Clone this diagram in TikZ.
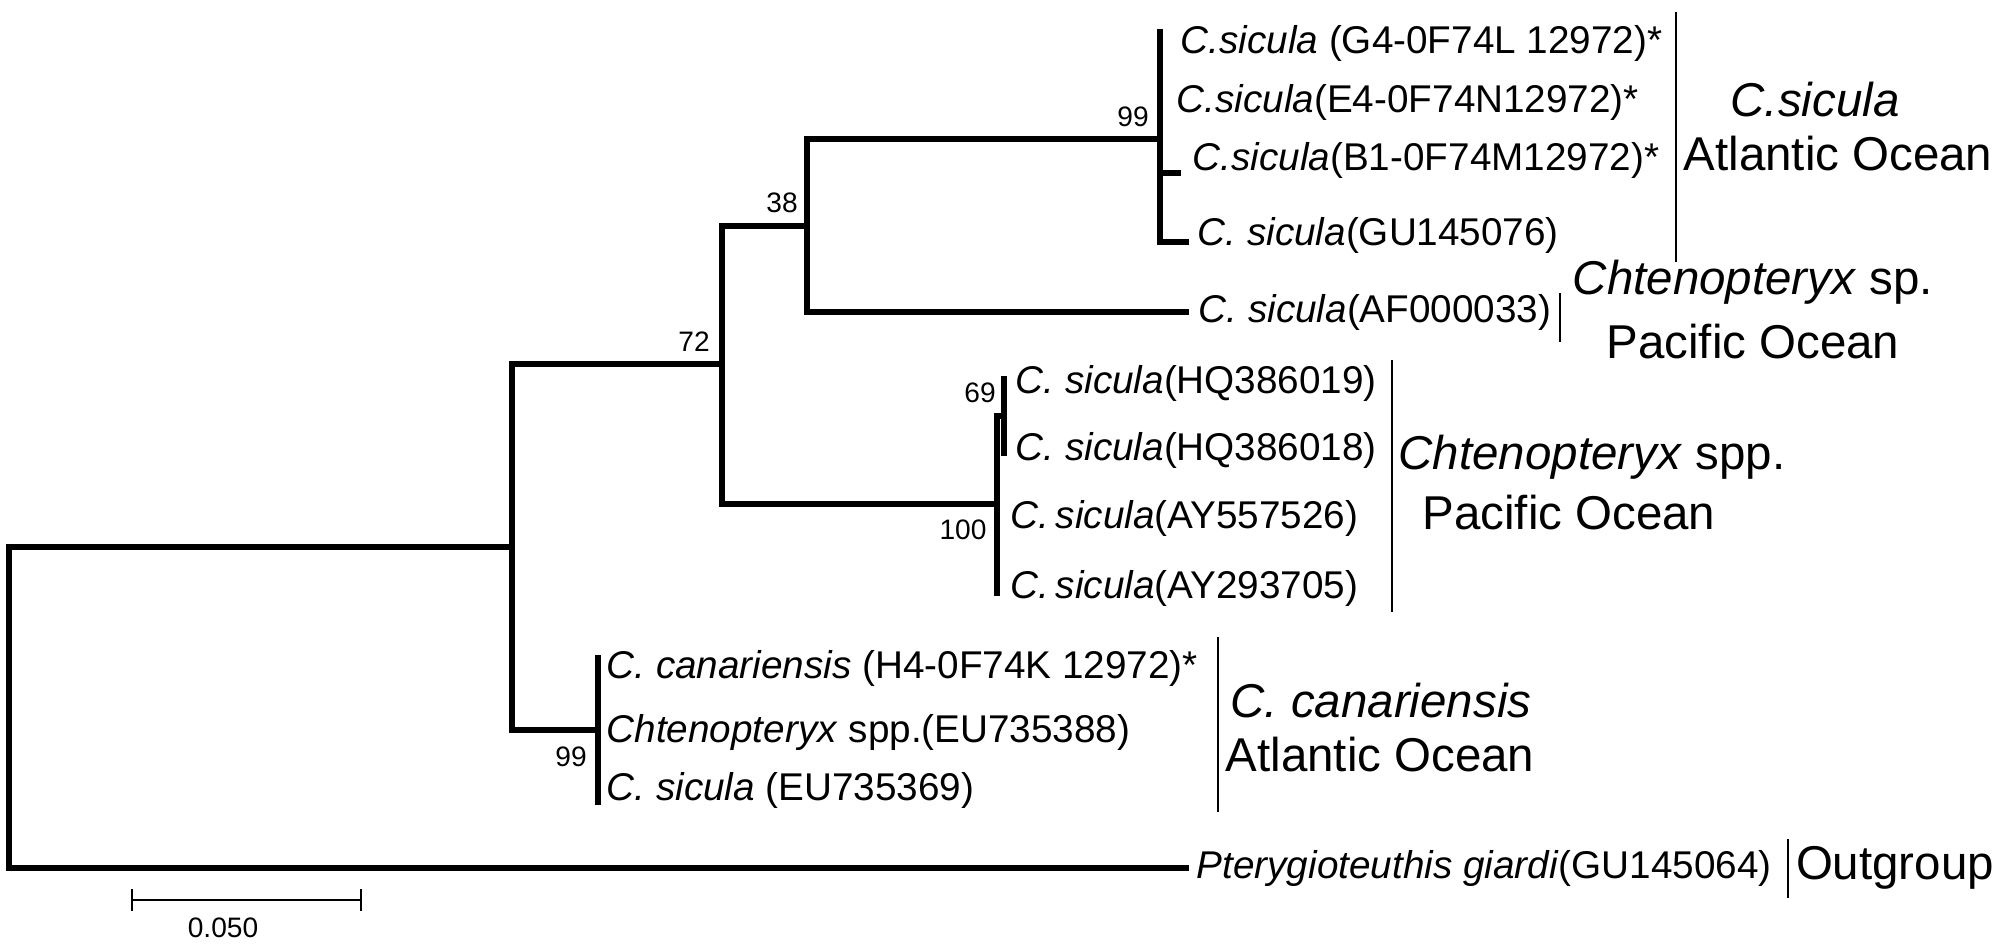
\documentclass[tikz,border=0pt]{standalone}
\usepackage{fontspec}
\setmainfont{Liberation Sans}
\usetikzlibrary{calc}

\begin{document}
\begin{tikzpicture}[
    x=0.01cm, y=-0.01cm,
    every node/.style={inner sep=0pt},
    branch/.style ={line width=1.45pt, draw=black, line cap=rect},
    clade/.style  ={line width=0.6pt, draw=black},
    scalebar/.style={line width=0.8pt, draw=black},
    leaf/.style   ={anchor=west, font=\fontsize{11}{13}\selectfont},
    boot/.style   ={font=\fontsize{8}{9}\selectfont},
    group/.style  ={font=\fontsize{13.5}{16}\selectfont},
  ]
  \useasboundingbox (0,0) rectangle (1999,948);

  %% --- internal nodes ---------------------------------------------------
  \coordinate (root)  at (9,707);
  \coordinate (nA)    at (512,547);
  \coordinate (n72)   at (722,364);
  \coordinate (n38)   at (807,226);
  \coordinate (n99a)  at (1160,139);
  \coordinate (n100)  at (997,504);
  \coordinate (n69)   at (1004,416);
  \coordinate (n99b)  at (598,730);

  %% --- branch tips ------------------------------------------------------
  \coordinate (G4)    at (1160,32);
  \coordinate (E4)    at (1160,102);
  \coordinate (B1)    at (1178,173);
  \coordinate (GU076) at (1186,242);
  \coordinate (AF033) at (1186,312);
  \coordinate (HQ019) at (1004,379);
  \coordinate (HQ018) at (1004,453);
  \coordinate (AY526) at (997,521);
  \coordinate (AY705) at (997,593);
  \coordinate (H4)    at (598,658);
  \coordinate (EU388) at (598,730);
  \coordinate (EU369) at (598,802);
  \coordinate (GU064) at (1186,868);

  %% --- tree -------------------------------------------------------------
  \draw[branch] (root) |- (nA);
  \draw[branch] (root) |- (GU064);
  \draw[branch] (nA) |- (n72);
  \draw[branch] (nA) |- (n99b);
  \draw[branch] (n72) |- (n38);
  \draw[branch] (n72) |- (n100);
  \draw[branch] (n38) |- (n99a);
  \draw[branch] (n38) |- (AF033);
  \draw[branch] (n99a) |- (G4);
  \draw[branch] (n99a) |- (E4);
  \draw[branch] (n99a) |- (B1);
  \draw[branch] (n99a) |- (GU076);
  \draw[branch] (n100) |- (n69);
  \draw[branch] (n100) |- (AY526);
  \draw[branch] (n100) |- (AY705);
  \draw[branch] (n69) |- (HQ019);
  \draw[branch] (n69) |- (HQ018);
  \draw[branch] (n99b) |- (H4);
  \draw[branch] (n99b) |- (EU388);
  \draw[branch] (n99b) |- (EU369);

  %% --- bootstrap values -------------------------------------------------
  \node[boot] (b72)  at (694,342) {72};
  \node[boot] (b38)  at (782,203) {38};
  \node[boot] (b99a) at (1133,117) {99};
  \node[boot] (b69)  at (980,393) {69};
  \node[boot] (b100) at (963,530) {100};
  \node[boot] (b99b) at (571,757) {99};

  %% --- leaf labels ------------------------------------------------------
  \node[leaf] (lG4)    at (1180,43)  {\textit{C.sicula} (G4-0F74L 12972)*};
  \node[leaf] (lE4)    at (1176,102) {\textit{C.sicula}(E4-0F74N12972)*};
  \node[leaf] (lB1)    at (1192,160) {\textit{C.sicula}(B1-0F74M12972)*};
  \node[leaf] (lGU076) at (1197,235) {\textit{C. sicula}(GU145076)};
  \node[leaf] (lAF033) at (1198,312) {\textit{C. sicula}(AF000033)};
  \node[leaf] (lHQ019) at (1015,383) {\textit{C. sicula}(HQ386019)};
  \node[leaf] (lHQ018) at (1015,450) {\textit{C. sicula}(HQ386018)};
  \node[leaf] (lAY526) at (1010,518) {\textit{C.\,sicula}(AY557526)};
  \node[leaf] (lAY705) at (1010,588) {\textit{C.\,sicula}(AY293705)};
  \node[leaf] (lH4)    at (606,668)  {\textit{C. canariensis} (H4-0F74K 12972)*};
  \node[leaf] (lEU388) at (606,732)  {\textit{Chtenopteryx} spp.(EU735388)};
  \node[leaf] (lEU369) at (606,790)  {\textit{C. sicula} (EU735369)};
  \node[leaf] (lGU064) at (1196,868) {\textit{Pterygioteuthis giardi}(GU145064)};

  %% --- clade bars -------------------------------------------------------
  \coordinate (cA1) at (1676,12);  \coordinate (cA2) at (1676,262);
  \coordinate (cB1) at (1560,293); \coordinate (cB2) at (1560,342);
  \coordinate (cC1) at (1392,360); \coordinate (cC2) at (1392,612);
  \coordinate (cD1) at (1218,637); \coordinate (cD2) at (1218,812);
  \coordinate (cE1) at (1788,839); \coordinate (cE2) at (1788,898);
  \draw[clade] (cA1) -- (cA2);
  \draw[clade] (cB1) -- (cB2);
  \draw[clade] (cC1) -- (cC2);
  \draw[clade] (cD1) -- (cD2);
  \draw[clade] (cE1) -- (cE2);

  %% --- clade names ------------------------------------------------------
  \node[group] (gA1) at (1815,100) {\textit{C.sicula}};
  \node[group] (gA2) at (1838,154) {Atlantic Ocean};
  \node[group] (gB1) at (1753,282) {\textit{Chtenopteryx} sp.};
  \node[group] (gB2) at (1753,342) {Pacific Ocean};
  \node[group] (gC1) at (1592,457) {\textit{Chtenopteryx} spp.};
  \node[group] (gC2) at (1569,513) {Pacific Ocean};
  \node[group] (gD1) at (1381,701) {\textit{C. canariensis}};
  \node[group] (gD2) at (1380,755) {Atlantic Ocean};
  \node[group] (gE)  at (1895,868) {Outgroup};

  %% --- scale bar --------------------------------------------------------
  \coordinate (s1) at (132,900);
  \coordinate (s2) at (361,900);
  \draw[scalebar] (s1) -- (s2);
  \draw[scalebar] ($(s1)+(0,-11)$) -- ($(s1)+(0,11)$);
  \draw[scalebar] ($(s2)+(0,-11)$) -- ($(s2)+(0,11)$);
  \node[boot] (sLbl) at (223,928) {0.050};
\end{tikzpicture}
\end{document}
